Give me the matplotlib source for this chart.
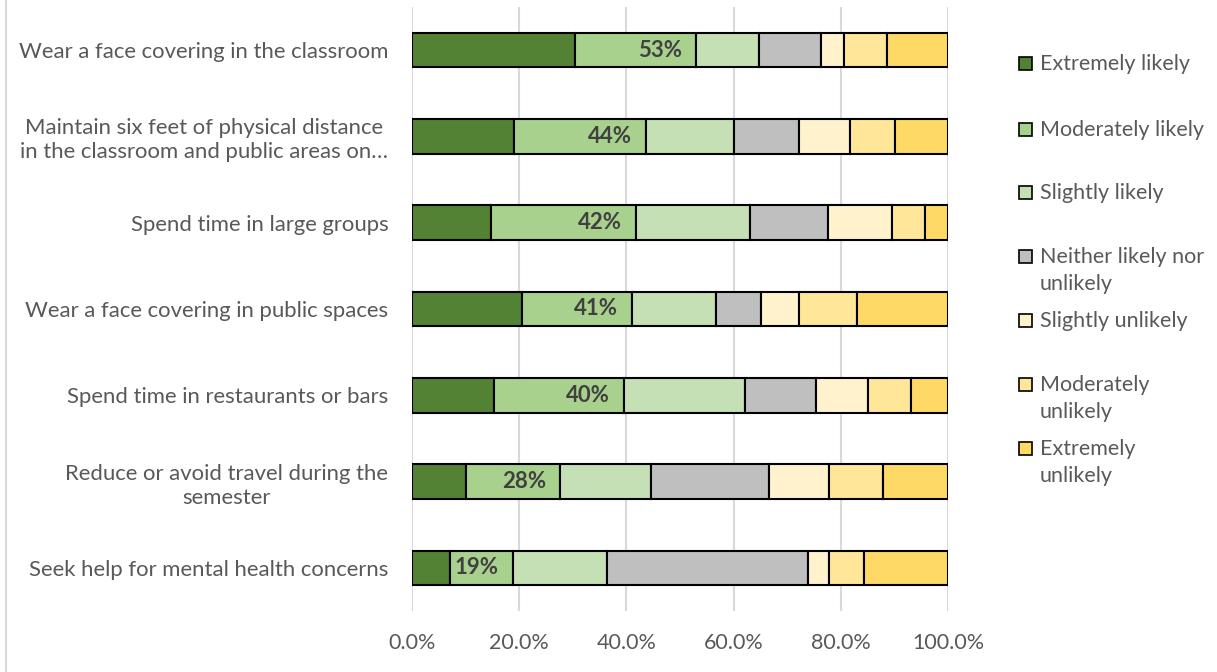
import matplotlib.pyplot as plt
from matplotlib.patches import Rectangle
from matplotlib.lines import Line2D

plt.rcParams['font.family'] = ['Lato', 'DejaVu Sans']

items = ["Wear a face covering in the classroom",
         "Maintain six feet of physical distance\nin the classroom and public areas on\u2026",
         "Spend time in large groups",
         "Wear a face covering in public spaces",
         "Spend time in restaurants or bars",
         "Reduce or avoid travel during the\nsemester",
         "Seek help for mental health concerns"]
series = ["Extremely likely", "Moderately likely", "Slightly likely",
          "Neither likely nor\nunlikely", "Slightly unlikely",
          "Moderately\nunlikely", "Extremely\nunlikely"]
# percentages per item, one list per answer
ext_likely   = [30.4, 19.1, 14.8, 20.5, 15.3, 10.1, 7.1]
mod_likely   = [22.6, 24.5, 27.0, 20.6, 24.3, 17.5, 11.7]
sli_likely   = [11.8, 16.4, 21.3, 15.7, 22.5, 17.0, 17.6]
neither      = [11.6, 12.3, 14.6, 8.3, 13.3, 22.0, 37.5]
sli_unlikely = [4.3, 9.4, 11.8, 7.1, 9.6, 11.3, 4.0]
mod_unlikely = [8.0, 8.4, 6.3, 10.9, 8.2, 10.0, 6.4]
ext_unlikely = [11.3, 9.9, 4.2, 16.9, 6.8, 12.1, 15.7]
likely_labels = ["53%", "44%", "42%", "41%", "40%", "28%", "19%"]

colors = ['#548235', '#A9D18E', '#C5E0B4', '#BFBFBF', '#FFF2CC', '#FFE699', '#FFD966']
data = [ext_likely, mod_likely, sli_likely, neither, sli_unlikely, mod_unlikely, ext_unlikely]

FS = 15.5
fig = plt.figure(figsize=(12.17, 6.72), dpi=100)
ax = fig.add_axes([0.3385, 0.0908, 0.4404, 0.8988])

ypos = list(range(len(items)))
left = [0.0] * len(items)
for vals, col, name in zip(data, colors, series):
    ax.barh(ypos, vals, left=left, height=0.4, color=col, edgecolor='black',
            linewidth=1.5, label=name, zorder=3)
    left = [l + v for l, v in zip(left, vals)]

# labels: extremely + moderately likely
for i, lab in enumerate(likely_labels):
    xend = ext_likely[i] + mod_likely[i]
    ax.text(xend - 2.6, i, lab, ha='right', va='center', fontsize=16,
            fontweight='bold', color='#404040', zorder=4)

ax.set_xlim(0, 100)
ax.set_ylim(6.5, -0.5)
ax.set_xticks([0, 20, 40, 60, 80, 100])
ax.set_xticklabels([f"{t:.1f}%" for t in [0, 20, 40, 60, 80, 100]])
ax.set_yticks(ypos)
ax.set_yticklabels(items, multialignment='center', linespacing=1.25)
ax.xaxis.grid(True, color='#D9D9D9', linewidth=1.5, zorder=0)
ax.tick_params(axis='both', length=0, labelsize=FS, labelcolor='#595959')
ax.tick_params(axis='y', pad=17, labelsize=15.9)
ax.tick_params(axis='x', pad=16)
for s in ax.spines.values():
    s.set_visible(False)

# legend drawn by hand, Excel style
W, H = 1217, 672
leg_y = [62, 128, 191, 255, 319, 383, 447]
for (ly, col, name) in zip(leg_y, colors, series):
    fig.patches.append(Rectangle((1019 / W, 1 - (ly + 8) / H), 13 / W, 13 / H,
                                 transform=fig.transFigure, facecolor=col,
                                 edgecolor='black', linewidth=1.2))
    fig.text(1040 / W, 1 - (ly - 8) / H, name, ha='left', va='top', fontsize=FS,
             color='#595959', linespacing=1.45)

# chart frame edge
fig.add_artist(Line2D([6 / W, 6 / W], [0, 1], color='#D9D9D9', linewidth=1.5,
                      transform=fig.transFigure))

fig.savefig('out.png', dpi=100)
